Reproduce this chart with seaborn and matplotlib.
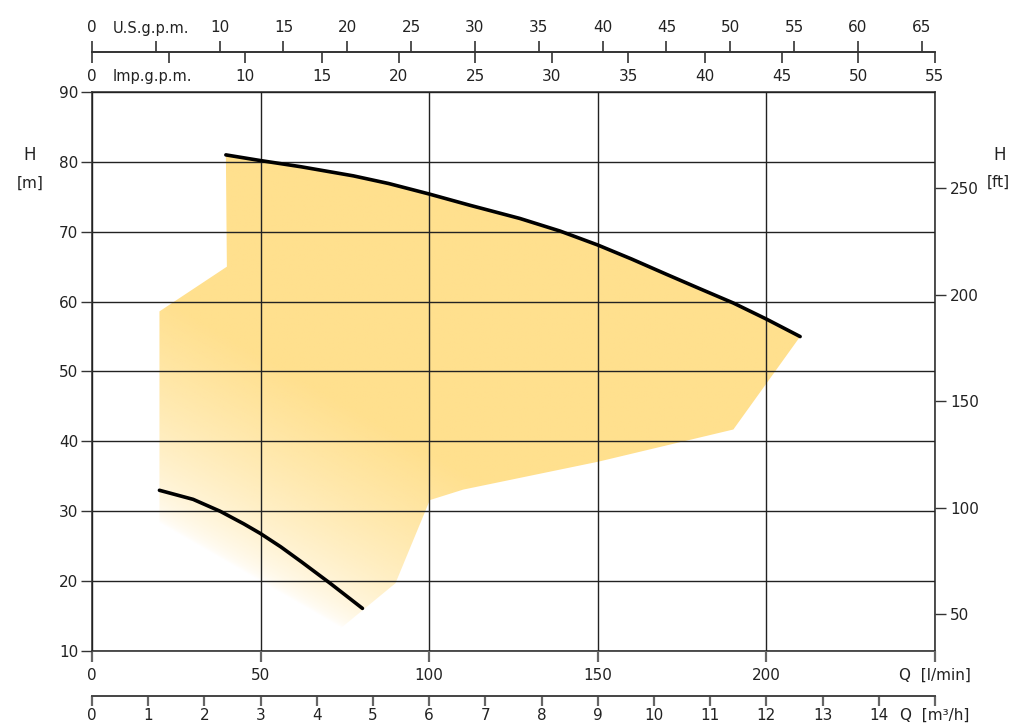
import numpy as np
import pandas as pd
import matplotlib
matplotlib.use("Agg")
import matplotlib.pyplot as plt
from matplotlib.patches import Polygon
import matplotlib.transforms as mtransforms
import seaborn as sns

# ---------------- data ----------------
q_upper = [39.7, 49.8, 62, 77.5, 88, 100, 112, 126.9, 138.8, 150, 160, 170.4, 180, 190.2, 200, 210]
h_upper = [81.0, 80.2, 79.3, 78.0, 76.9, 75.4, 73.8, 71.9, 70.1, 68.1, 66.1, 63.9, 61.9, 59.8, 57.5, 55.0]
q_lower = [20, 30, 38, 45, 50, 56, 62, 70.6, 80.2]
h_lower = [33.0, 31.7, 30.0, 28.2, 26.8, 24.9, 22.8, 19.7, 16.1]
# remaining outline of the operating region (after the upper curve)
q_region = [190.2, 150.2, 110.1, 100.2, 90, 70.6, 20, 20, 40]
h_region = [41.7, 37.1, 33.1, 31.6, 19.7, 12.0, 28.0, 58.6, 65.0]

q_ticks = [0, 50, 100, 150, 200, 250]
q_labels = ["0", "50", "100", "150", "200", "Q  [l/min]"]
h_ticks = [10, 20, 30, 40, 50, 60, 70, 80, 90]
ft_ticks = [50, 100, 150, 200, 250]
us_ticks = list(range(0, 70, 5))
imp_ticks = list(range(0, 60, 5))
m3h_ticks = list(range(0, 16))

LPM_PER_USG = 3.78541
LPM_PER_IMP = 4.54609
LPM_PER_M3H = 1000 / 60
FT_PER_M = 3.28084

YELLOW = "#FFE08E"
TXT = "#222222"

sns.set_style("white")
plt.rcParams["font.family"] = ["DejaVu Sans"]
plt.rcParams["font.size"] = 11

W, H = 1010, 726
fig = plt.figure(figsize=(W / 100, H / 100), dpi=100)

L, R = 92 / W, 935 / W
ax = fig.add_axes([L, 1 - 651 / H, R - L, (651 - 92) / H])
ax.set_xlim(0, 250)
ax.set_ylim(10, 90)

# gradient-filled region
verts = list(zip(q_upper, h_upper)) + list(zip(q_region, h_region))
poly = Polygon(verts, closed=True, facecolor="none", edgecolor="none")
ax.add_patch(poly)
gx = np.linspace(0, 250, 600)
gy = np.linspace(10, 90, 400)
GX, GY = np.meshgrid(gx, gy)
px = GX * 3.372
py = GY * 6.9875
d = 0.5 * (px - 20 * 3.372) + 0.866 * (py - 28.3 * 6.9875)
t = np.clip(d / 195.0, 0, 1)
alpha = t ** 0.6
rgba = np.zeros(GX.shape + (4,))
c = matplotlib.colors.to_rgb(YELLOW)
rgba[..., 0], rgba[..., 1], rgba[..., 2] = c
rgba[..., 3] = alpha
im = ax.imshow(rgba, extent=(0, 250, 10, 90), origin="lower", aspect="auto",
               interpolation="bilinear", zorder=1)
im.set_clip_path(poly)

# grid
ax.set_xticks(q_ticks)
ax.set_yticks(h_ticks)
ax.grid(True, color="#222222", linewidth=1.0, zorder=2)
ax.set_axisbelow(False)

df_u = pd.DataFrame({"Q": q_upper, "H": h_upper})
df_l = pd.DataFrame({"Q": q_lower, "H": h_lower})
sns.lineplot(data=df_u, x="Q", y="H", ax=ax, color="black", linewidth=2.6, zorder=5, sort=False)
sns.lineplot(data=df_l, x="Q", y="H", ax=ax, color="black", linewidth=2.6, zorder=5, sort=False)
ax.set_xlabel("")
ax.set_ylabel("")

for s in ["left", "right", "top", "bottom"]:
    ax.spines[s].set_visible(True)
    ax.spines[s].set_color("#333333")
    ax.spines[s].set_linewidth(1.2)

ax.set_xticklabels(q_labels)
ax.tick_params(axis="x", bottom=True, direction="out", length=8, width=1.6,
               color="#666666", pad=4, labelsize=11, labelcolor=TXT)
ax.tick_params(axis="y", left=True, direction="out", length=8, width=1.0,
               color="#333333", pad=2, labelsize=11, labelcolor=TXT)

# right axis in feet
axr = ax.twinx()
axr.set_ylim(10 * FT_PER_M, 90 * FT_PER_M)
axr.set_yticks(ft_ticks)
axr.tick_params(axis="y", right=True, direction="out", length=8, width=1.0,
                color="#333333", pad=3, labelsize=11, labelcolor=TXT)
for s in ["left", "right", "top", "bottom"]:
    axr.spines[s].set_visible(False)
axr.grid(False)

fig.text(30 / W, 1 - 155 / H, "H", ha="center", va="center", fontsize=12, color=TXT)
fig.text(30 / W, 1 - 183 / H, "[m]", ha="center", va="center", fontsize=11, color=TXT)
fig.text(1000 / W, 1 - 155 / H, "H", ha="center", va="center", fontsize=12, color=TXT)
fig.text(998 / W, 1 - 182 / H, "[ft]", ha="center", va="center", fontsize=11, color=TXT)

# top axes: US gpm (ticks up) and Imp gpm (ticks down)
ytop = 1 - 52 / H
ax_us = fig.add_axes([L, ytop, R - L, 1e-6])
ax_imp = fig.add_axes([L, ytop, R - L, 1e-6])
for a in (ax_us, ax_imp):
    a.set_xlim(0, 250)
    a.set_yticks([])
    a.patch.set_visible(False)
    for s in ["left", "right", "top"]:
        a.spines[s].set_visible(False)
    a.spines["bottom"].set_color("#333333")
    a.spines["bottom"].set_linewidth(1.2)

ax_us.set_xticks([g * LPM_PER_USG for g in us_ticks])
ax_us.set_xticklabels(["" if g == 5 else str(g) for g in us_ticks])
ax_us.tick_params(axis="x", top=True, bottom=False, labeltop=True, labelbottom=False,
                  direction="out", length=8, width=1.2, color="#333333", pad=4,
                  labelsize=11, labelcolor=TXT)
tr_us = mtransforms.blended_transform_factory(ax_us.transData, fig.transFigure)
ax_us.text(6.2, 1 - 28 / H, "U.S.g.p.m.", transform=tr_us, ha="left", va="center",
           fontsize=10.5, color=TXT)

ax_imp.set_xticks([g * LPM_PER_IMP for g in imp_ticks])
ax_imp.set_xticklabels(["" if g == 5 else str(g) for g in imp_ticks])
ax_imp.tick_params(axis="x", bottom=True, top=False, direction="out", length=8, width=1.2,
                   color="#333333", pad=4, labelsize=11, labelcolor=TXT)
tr_imp = mtransforms.blended_transform_factory(ax_imp.transData, fig.transFigure)
ax_imp.text(6.2, 1 - 76 / H, "Imp.g.p.m.", transform=tr_imp, ha="left", va="center",
            fontsize=10.5, color=TXT)

# bottom axis: m3/h
ax_m3 = fig.add_axes([L, 1 - 696 / H, R - L, 1e-6])
ax_m3.set_xlim(0, 250)
ax_m3.set_yticks([])
ax_m3.patch.set_visible(False)
for s in ["left", "right", "top"]:
    ax_m3.spines[s].set_visible(False)
ax_m3.spines["bottom"].set_color("#444444")
ax_m3.spines["bottom"].set_linewidth(1.4)
ax_m3.set_xticks([m * LPM_PER_M3H for m in m3h_ticks])
ax_m3.set_xticklabels([str(m) for m in m3h_ticks[:-1]] + ["Q  [m³/h]"])
ax_m3.tick_params(axis="x", bottom=True, direction="out", length=7, width=1.6,
                  color="#666666", pad=1.5, labelsize=11, labelcolor=TXT)

fig.savefig("out.png", dpi=100, facecolor="white")
